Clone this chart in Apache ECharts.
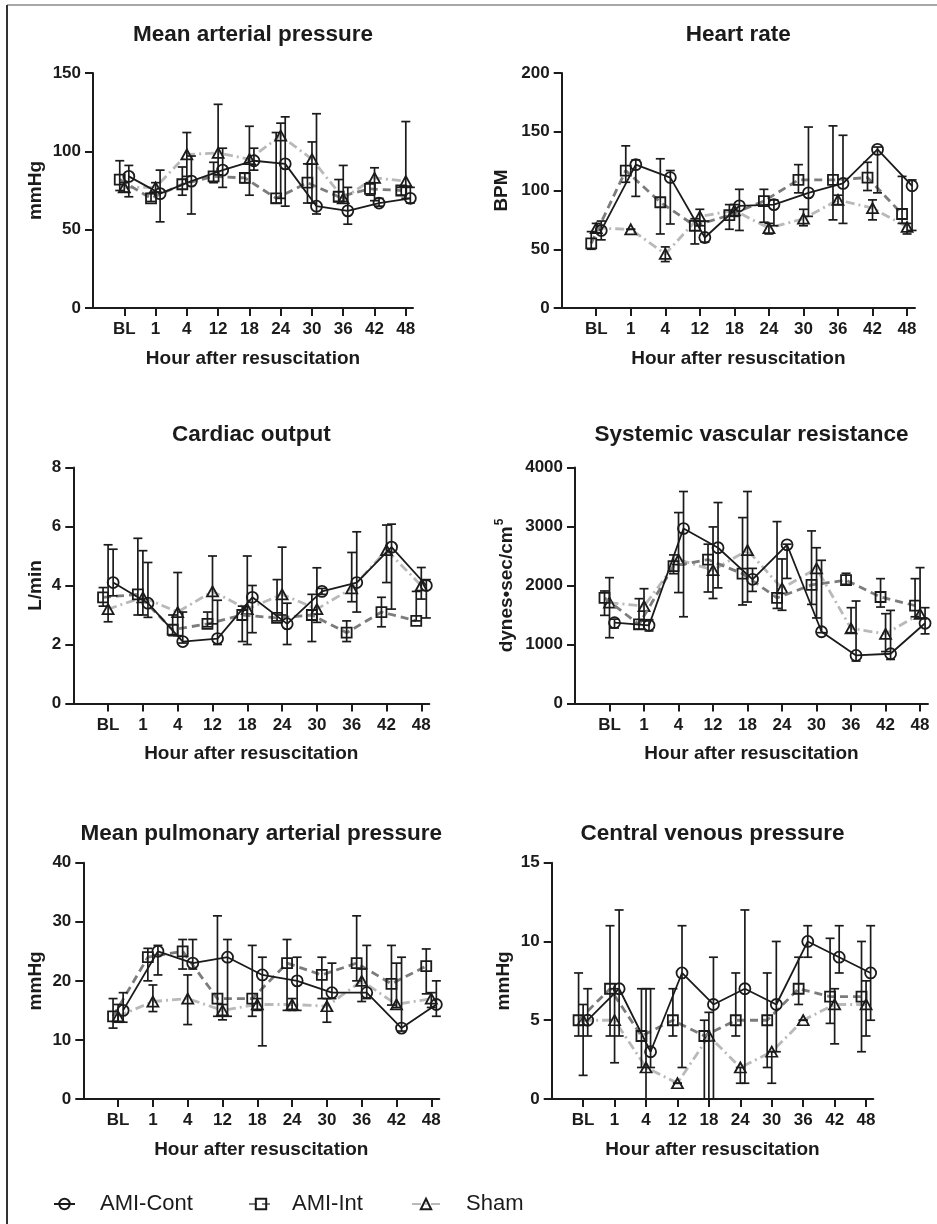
<!DOCTYPE html>
<html>
<head>
<meta charset="utf-8">
<script src="https://cdn.jsdelivr.net/npm/echarts@6/dist/echarts.min.js"></script>
<style>
  html, body { margin: 0; background: #fff; }
  #chart { width: 937px; height: 1224px; }
</style>
</head>
<body>
<div id="chart"></div>
<script>
  // time points (x categories)
  const hours = ['BL', '1', '4', '12', '18', '24', '30', '36', '42', '48'];
  const groups = ['AMI-Cont', 'AMI-Int', 'Sham'];

  // Mean arterial pressure (mmHg)
  const mapContMean = [84, 73, 81, 88, 94, 92, 65, 62, 67, 70];
  const mapContLow  = [71, 55, 60, 77, 88, 65, 60, 53.5, 65, 67];
  const mapContHigh = [91, 88, 97, 102, 102, 122, 124, 77, 70, 77];
  const mapIntMean  = [82, 70, 79, 84, 83, 70, 80, 71, 76, 75];
  const mapIntLow   = [75, 68, 72, 80, 80, 67, 67, 68, 72, 72];
  const mapIntHigh  = [94, 73, 90, 93, 86, 112, 92, 82, 80, 77];
  const mapShamMean = [77, 77, 98, 99, 95, 110, 95, 70, 83, 81];
  const mapShamLow  = [74, 74, 84, 85, 72, 70, 67, 68, 68.5, 70];
  const mapShamHigh = [80, 80, 112, 130, 116, 118, 106, 91, 89.5, 119];

  // Heart rate (BPM)
  const hrContMean = [66, 122, 111, 60, 87, 88, 98, 106, 135, 104];
  const hrContLow  = [58, 95, 71.5, 56, 66, 70, 78, 72, 98, 66];
  const hrContHigh = [74, 126, 117, 74, 101, 92, 154, 147, 137, 109];
  const hrIntMean  = [55, 117, 90, 70, 79, 91, 109, 109, 111, 80];
  const hrIntLow   = [50, 107, 63, 54.5, 67, 73, 98, 75, 100, 72];
  const hrIntHigh  = [65, 138, 127, 76, 88, 101, 122, 155, 124, 112];
  const hrShamMean = [68, 67, 46, 78, 83, 68, 76, 92, 85, 69];
  const hrShamLow  = [64, 67, 39.5, 70, 78, 63, 70, 88, 75, 63];
  const hrShamHigh = [72, 67, 52, 84, 88, 72, 84, 96, 92, 72];

  // Cardiac output (L/min)
  const coContMean = [4.1, 3.4, 2.1, 2.2, 3.6, 2.7, 3.8, 4.1, 5.3, 4.0];
  const coContLow  = [3.65, 2.92, 2.05, 2.0, 2.4, 2.0, 3.7, 3.1, 3.2, 2.9];
  const coContHigh = [5.23, 4.78, 3.1, 3.5, 4.0, 3.4, 3.9, 5.82, 6.08, 4.2];
  const coIntMean  = [3.6, 3.7, 2.5, 2.7, 3.0, 2.9, 3.0, 2.4, 3.1, 2.8];
  const coIntLow   = [3.3, 3.0, 2.3, 2.6, 2.1, 2.8, 2.1, 2.1, 2.6, 2.8];
  const coIntHigh  = [3.93, 5.6, 3.0, 3.1, 3.3, 4.2, 3.7, 2.8, 3.6, 3.8];
  const coShamMean = [3.2, 3.6, 3.1, 3.8, 3.2, 3.7, 3.2, 3.9, 5.2, 4.0];
  const coShamLow  = [2.77, 3.0, 2.3, 2.7, 2.0, 3.0, 2.75, 3.45, 4.1, 3.54];
  const coShamHigh = [5.38, 5.18, 4.44, 5.0, 5.0, 5.3, 4.6, 5.12, 6.05, 4.61];

  // Systemic vascular resistance (dynes*sec/cm5)
  const svrContMean = [1370, 1325, 2965, 2640, 2105, 2690, 1216, 815, 843, 1360];
  const svrContLow  = [1280, 1230, 1470, 1960, 1900, 2120, 1200, 720, 747, 1180];
  const svrContHigh = [1430, 1420, 3593, 3406, 2290, 2700, 2427, 1737, 1578, 1624];
  const svrIntMean  = [1790, 1340, 2330, 2440, 2200, 1790, 2010, 2090, 1805, 1660];
  const svrIntLow   = [1494, 1260, 2200, 1890, 1670, 1612, 1680, 2020, 1635, 1470];
  const svrIntHigh  = [1907, 1777, 2518, 2700, 3151, 3083, 2925, 2207, 2116, 2116];
  const svrShamMean = [1710, 1650, 2440, 2260, 2600, 1950, 2290, 1273, 1180, 1520];
  const svrShamLow  = [1115, 1400, 1880, 1780, 1720, 1580, 1450, 1200, 880, 1450];
  const svrShamHigh = [2133, 1946, 3236, 2993, 3593, 2450, 2640, 1624, 1522, 2303];

  // Mean pulmonary arterial pressure (mmHg)
  const mpapContMean = [15, 25, 23, 24, 21, 20, 18, 18, 12, 16];
  const mpapContLow  = [13, 21, 22, 14, 9, 15, 17, 17, 11.5, 14];
  const mpapContHigh = [18, 26, 27, 27, 24, 24, 23, 26, 24, 20];
  const mpapIntMean  = [14, 24, 25, 17, 17, 23, 21, 23, 19.5, 22.5];
  const mpapIntLow   = [12, 20, 22, 14, 14, 15, 17, 20, 15.9, 17.8];
  const mpapIntHigh  = [17, 25.5, 27, 31, 26, 27, 24, 31, 26, 25.4];
  const mpapShamMean = [14, 16.5, 17, 15, 16, 16, 15.7, 20, 16, 17];
  const mpapShamLow  = [13, 14.8, 12.6, 13.4, 15, 15, 13, 16.5, 15.5, 15.5];
  const mpapShamHigh = [16, 19.3, 21, 16, 17, 17, 17, 22, 23, 18];

  // Central venous pressure (mmHg)
  const cvpContMean = [5, 7, 3, 8, 6, 7, 6, 10, 9, 8];
  const cvpContLow  = [4, 4, 2, 2, 0, 1, 3, 9, 8, 5];
  const cvpContHigh = [7, 12, 7, 11, 9, 12, 10, 11, 11, 11];
  const cvpIntMean  = [5, 7, 4, 5, 4, 5, 5, 7, 6.5, 6.5];
  const cvpIntLow   = [4, 4, 2, 4, 0, 4, 2, 6, 4.8, 3];
  const cvpIntHigh  = [8, 11, 7, 7, 5, 8, 8, 9, 10.2, 10];
  const cvpShamMean = [5, 5, 2, 1, 4, 2, 3, 5, 6, 6];
  const cvpShamLow  = [1.5, 2.3, 0, 1, 0, 1, 1, 5, 3.5, 4];
  const cvpShamHigh = [6, 7, 7, 1, 5.5, 2, 3, 5, 7, 7.5];

  const FONT = '"Liberation Sans", Arial, sans-serif';
  const INK = '#1b1b1b';

  const panels = [
    {title: 'Mean arterial pressure', yName: 'mmHg', yMax: 150, yStep: 50, nameGap: 48, titleY: 35,
      grid: {left: 93, top: 73, width: 320, height: 235},
      data: [[mapContMean, mapContLow, mapContHigh], [mapIntMean, mapIntLow, mapIntHigh], [mapShamMean, mapShamLow, mapShamHigh]]},
    {title: 'Heart rate', yName: 'BPM', yMax: 200, yStep: 50, nameGap: 50, titleY: 35,
      grid: {left: 561.7, top: 73, width: 353.3, height: 235},
      data: [[hrContMean, hrContLow, hrContHigh], [hrIntMean, hrIntLow, hrIntHigh], [hrShamMean, hrShamLow, hrShamHigh]]},
    {title: 'Cardiac output', yName: 'L/min', yMax: 8, yStep: 2, nameGap: 28, titleY: 435,
      grid: {left: 73.3, top: 467.5, width: 356, height: 236},
      data: [[coContMean, coContLow, coContHigh], [coIntMean, coIntLow, coIntHigh], [coShamMean, coShamLow, coShamHigh]]},
    {title: 'Systemic vascular resistance', yName: '{a|dynes•sec/cm}{s|5}', yMax: 4000, yStep: 1000, nameGap: 59, titleY: 435,
      grid: {left: 575, top: 467.5, width: 353, height: 236},
      data: [[svrContMean, svrContLow, svrContHigh], [svrIntMean, svrIntLow, svrIntHigh], [svrShamMean, svrShamLow, svrShamHigh]]},
    {title: 'Mean pulmonary arterial pressure', yName: 'mmHg', yMax: 40, yStep: 10, nameGap: 38, titleY: 834,
      grid: {left: 83.3, top: 862.7, width: 356, height: 236.3},
      data: [[mpapContMean, mpapContLow, mpapContHigh], [mpapIntMean, mpapIntLow, mpapIntHigh], [mpapShamMean, mpapShamLow, mpapShamHigh]]},
    {title: 'Central venous pressure', yName: 'mmHg', yMax: 15, yStep: 5, nameGap: 38, titleY: 834,
      grid: {left: 551.7, top: 862.7, width: 321.6, height: 236.3},
      data: [[cvpContMean, cvpContLow, cvpContHigh], [cvpIntMean, cvpIntLow, cvpIntHigh], [cvpShamMean, cvpShamLow, cvpShamHigh]]}
  ];

  // dodge of each group around the tick
  const offsets = [0.145, -0.145, 0];
  const symbols = ['circle', 'rect', 'triangle'];
  const symbolSizes = [11, 10, [11, 10]];
  const lineStyles = [
    {color: INK, width: 1.8, type: 'solid'},
    {color: '#7c7c7c', width: 2.8, type: [8, 5]},
    {color: '#b9b9b9', width: 2.8, type: [9, 4, 2, 4]}
  ];
  const tickValues = hours.map((h, i) => i);

  function renderErrorBar(params, api) {
    const x = api.value(0);
    const lo = api.coord([x, api.value(1)]);
    const hi = api.coord([x, api.value(2)]);
    const cap = 4.5;
    const style = {stroke: INK, lineWidth: 1.7};
    return {
      type: 'group',
      children: [
        {type: 'line', shape: {x1: lo[0], y1: lo[1], x2: hi[0], y2: hi[1]}, style: style},
        {type: 'line', shape: {x1: hi[0] - cap, y1: hi[1], x2: hi[0] + cap, y2: hi[1]}, style: style},
        {type: 'line', shape: {x1: lo[0] - cap, y1: lo[1], x2: lo[0] + cap, y2: lo[1]}, style: style}
      ]
    };
  }

  const grids = [], xAxes = [], yAxes = [], series = [], graphics = [];

  panels.forEach(function (p, k) {
    grids.push(Object.assign({containLabel: false}, p.grid));
    xAxes.push({
      type: 'value', gridIndex: k, min: -1, max: 9.23,
      name: 'Hour after resuscitation', nameLocation: 'middle', nameGap: 41,
      nameTextStyle: {fontFamily: FONT, fontWeight: 'bold', fontSize: 19, color: INK},
      axisLine: {show: true, onZero: false, lineStyle: {color: INK, width: 2}},
      axisTick: {show: true, customValues: tickValues, length: 8, lineStyle: {color: INK, width: 2}},
      axisLabel: {customValues: tickValues, formatter: v => hours[v], margin: 13,
        fontFamily: FONT, fontWeight: 'bold', fontSize: 17, color: INK},
      splitLine: {show: false}
    });
    yAxes.push({
      type: 'value', gridIndex: k, min: 0, max: p.yMax, interval: p.yStep,
      name: p.yName, nameLocation: 'middle', nameGap: p.nameGap, nameRotate: 90,
      nameTextStyle: {fontFamily: FONT, fontWeight: 'bold', fontSize: 19, color: INK,
        rich: {
          a: {fontFamily: FONT, fontWeight: 'bold', fontSize: 19, color: INK, verticalAlign: 'bottom'},
          s: {fontFamily: FONT, fontWeight: 'bold', fontSize: 12, color: INK, verticalAlign: 'bottom', padding: [0, 0, 10, 1]}
        }},
      axisLine: {show: true, onZero: false, lineStyle: {color: INK, width: 2}},
      axisTick: {show: true, length: 8, lineStyle: {color: INK, width: 2}},
      axisLabel: {formatter: v => String(v), margin: 12,
        fontFamily: FONT, fontWeight: 'bold', fontSize: 17, color: INK},
      splitLine: {show: false}
    });

    // Sham first so the darker groups sit on top
    [2, 1, 0].forEach(function (g) {
      const mean = p.data[g][0], low = p.data[g][1], high = p.data[g][2];
      series.push({
        name: groups[g], type: 'line', xAxisIndex: k, yAxisIndex: k,
        data: mean.map((v, i) => [i + offsets[g], v]),
        symbol: symbols[g], symbolSize: symbolSizes[g], showAllSymbol: true,
        itemStyle: {color: 'rgba(255,255,255,0)', borderColor: INK, borderWidth: 1.8},
        lineStyle: lineStyles[g],
        z: 3 + (2 - g), animation: false
      });
      series.push({
        name: groups[g] + ' range', type: 'custom', xAxisIndex: k, yAxisIndex: k,
        data: mean.map((v, i) => [i + offsets[g], low[i], high[i]]),
        encode: {x: 0, y: [1, 2]},
        renderItem: renderErrorBar, z: 6, silent: true, animation: false
      });
    });

    graphics.push({
      type: 'text', x: p.grid.left + p.grid.width / 2, y: p.titleY,
      style: {text: p.title, fill: INK, font: 'bold 22.5px ' + FONT, align: 'center', verticalAlign: 'middle'}
    });
  });

  // thin frame along the top and left edges
  graphics.push({type: 'line', shape: {x1: 7, y1: 5, x2: 937, y2: 5}, style: {stroke: '#8a8a8a', lineWidth: 1.5}});
  graphics.push({type: 'line', shape: {x1: 7, y1: 5, x2: 7, y2: 1224}, style: {stroke: '#333', lineWidth: 2}});

  const legendBase = {
    top: 1188, itemHeight: 13, orient: 'horizontal',
    textStyle: {fontFamily: FONT, fontSize: 22, color: INK}
  };
  function legendItem(name, left, iconWidth, textPad) {
    return Object.assign({}, legendBase, {
      data: [name], left: left, itemWidth: iconWidth,
      textStyle: Object.assign({}, legendBase.textStyle, {padding: [0, 0, 0, textPad]})
    });
  }

  const chart = echarts.init(document.getElementById('chart'), null, {renderer: 'canvas'});
  chart.setOption({
    animation: false,
    backgroundColor: '#fff',
    grid: grids,
    xAxis: xAxes,
    yAxis: yAxes,
    series: series,
    graphic: graphics,
    legend: [
      legendItem('AMI-Cont', 48, 21, 20),
      legendItem('AMI-Int', 243, 24, 14),
      legendItem('Sham', 406, 28, 21)
    ]
  });
</script>
</body>
</html>
